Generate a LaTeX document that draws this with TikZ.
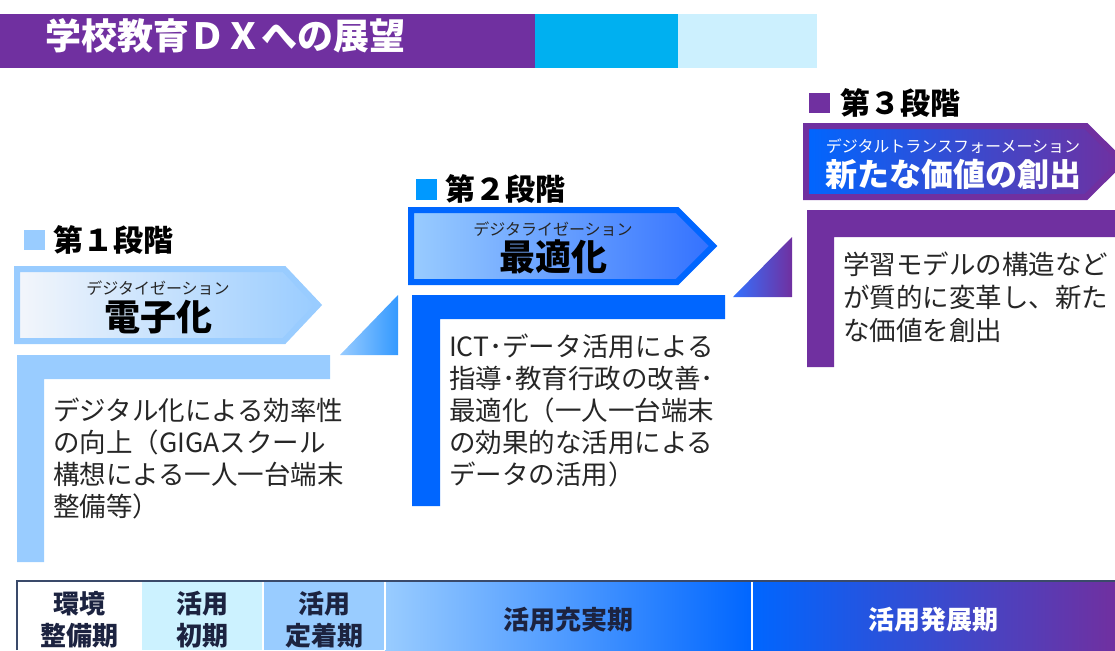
\documentclass[tikz,border=0pt]{standalone}
\usepackage{fontspec}
\setmainfont{Noto Sans CJK JP}
\definecolor{dxpurple}{HTML}{7030A0}
\definecolor{dxcyan}{HTML}{00B0F0}
\definecolor{dxlcyan}{HTML}{CCF0FE}
\definecolor{dxlblue}{HTML}{99CCFF}
\definecolor{dxblue}{HTML}{0066FF}
\definecolor{dxmid}{HTML}{3371FF}
\definecolor{dxtri}{HTML}{3399FF}
\definecolor{dxpale}{HTML}{F3F6FB}
\definecolor{dxmark}{HTML}{0099FF}
\definecolor{dxtext}{HTML}{262626}
\definecolor{dxnavy}{HTML}{1C2340}
\definecolor{dxcell}{HTML}{CCF2FF}
\definecolor{dxborder}{HTML}{3A4A6A}
\begin{document}
\begin{tikzpicture}[x=1pt,y=-1pt,
  body/.style={anchor=base west, font=\fontsize{26.5}{32}\selectfont, text=dxtext, inner sep=0pt},
  stagelab/.style={anchor=base west, font=\fontsize{30}{36}\selectfont\bfseries, text=black, inner sep=0pt},
  subt/.style={anchor=base, font=\fontsize{16}{18}\selectfont, inner sep=0pt},
  mainlab/.style={anchor=base, font=\fontsize{36}{40}\selectfont\bfseries, inner sep=0pt},
  celltext/.style={anchor=base, font=\fontsize{26}{30}\selectfont\bfseries, text=dxnavy, inner sep=0pt},
  arrowbox/.style={line width=6pt, line join=miter}
]
\useasboundingbox (0,0) rectangle (1115,650);

% title bar
\fill[dxpurple] (0,14) rectangle (535,68);
\fill[dxcyan] (535,14) rectangle (678,68);
\fill[dxlcyan] (678,14) rectangle (817,68);
\node[anchor=base west, font=\fontsize{36}{40}\selectfont\bfseries, text=white, inner sep=0pt] (title) at (45,50) {学校教育ＤＸへの展望};

% ---------- stage 1
\fill[dxlblue] (24,230) rectangle (45,250);
\node[stagelab] (s1lab) at (53,251) {第１段階};
\shadedraw[arrowbox, left color=dxpale, right color=dxlblue, draw=dxlblue]
  (17,269) -- (284,269) -- (318,305) -- (284,341) -- (17,341) -- cycle;
\node[subt, text=dxtext] (s1sub) at (158,294) {デジタイゼーション};
\node[mainlab, text=black] (s1main) at (158,330) {電子化};
\fill[dxlblue] (17,355) -- (330,355) -- (330,379) -- (44,379) -- (44,562) -- (17,562) -- cycle;
\node[body] (s1a) at (53,420) {デジタル化による効率性};
\node[body] (s1b) at (53,452) {の向上（GIGAスクール};
\node[body] (s1c) at (53,484) {構想による一人一台端末};
\node[body] (s1d) at (53,516) {整備等）};
\shade[left color=dxlblue, right color=dxtri] (340,355) -- (398,295) -- (398,355) -- cycle;

% ---------- stage 2
\fill[dxmark] (416,179) rectangle (437,200);
\node[stagelab] (s2lab) at (445,200) {第２段階};
\shadedraw[arrowbox, left color=dxlblue, right color=dxmid, draw=dxblue]
  (411,210) -- (677,210) -- (713,246) -- (677,282) -- (411,282) -- cycle;
\node[subt, text=dxtext] (s2sub) at (553,235) {デジタライゼーション};
\node[mainlab, text=black] (s2main) at (553,270) {最適化};
\fill[dxblue] (412,295) -- (725,295) -- (725,319) -- (440,319) -- (440,506) -- (412,506) -- cycle;
\node[body] (s2a) at (449,356) {ICT･データ活用による};
\node[body] (s2b) at (449,388) {指導･教育行政の改善･};
\node[body] (s2c) at (449,420) {最適化（一人一台端末};
\node[body] (s2d) at (449,452) {の効果的な活用による};
\node[body] (s2e) at (449,484) {データの活用）};
\shade[left color=dxmid, right color=dxpurple] (733,297) -- (792,237) -- (792,297) -- cycle;

% ---------- stage 3
\fill[dxpurple] (809,93) rectangle (830,113);
\node[stagelab] (s3lab) at (840,114) {第３段階};
\shadedraw[arrowbox, left color=dxblue, right color=dxpurple, draw=dxpurple]
  (806,126) -- (1086,126) -- (1122,161.5) -- (1086,197) -- (806,197) -- cycle;
\node[subt, text=white] (s3sub) at (953,152) {デジタルトランスフォーメーション};
\node[mainlab, font=\fontsize{32}{36}\selectfont\bfseries, text=white] (s3main) at (953,186) {新たな価値の創出};
\fill[dxpurple] (807,210) -- (1115,210) -- (1115,237) -- (834,237) -- (834,367) -- (807,367) -- cycle;
\node[body] (s3a) at (843,274) {学習モデルの構造など};
\node[body] (s3b) at (843,307) {が質的に変革し、新た};
\node[body] (s3c) at (843,340) {な価値を創出};

% ---------- bottom table
\fill[white] (17,581) rectangle (141,650);
\fill[dxcell] (141,581) rectangle (263,650);
\fill[dxlblue] (263,581) rectangle (385,650);
\shade[left color=dxlblue, right color=dxblue] (385,581) rectangle (752,650);
\shade[left color=dxblue, right color=dxpurple] (752,581) rectangle (1115,650);
\draw[white, line width=1.2pt] (141,582) -- (141,650) (263,582) -- (263,650) (385,582) -- (385,650) (752,582) -- (752,650);
\draw[dxborder, line width=1.5pt] (17,650) -- (17,581) -- (1115,581);
\node[celltext] (c1a) at (79,613) {環境};
\node[celltext] (c1b) at (79,645) {整備期};
\node[celltext] (c2a) at (202,613) {活用};
\node[celltext] (c2b) at (202,645) {初期};
\node[celltext] (c3a) at (324,613) {活用};
\node[celltext] (c3b) at (324,645) {定着期};
\node[celltext] (c4) at (568,629) {活用充実期};
\node[celltext, text=white] (c5) at (933,629) {活用発展期};
\end{tikzpicture}
\end{document}
